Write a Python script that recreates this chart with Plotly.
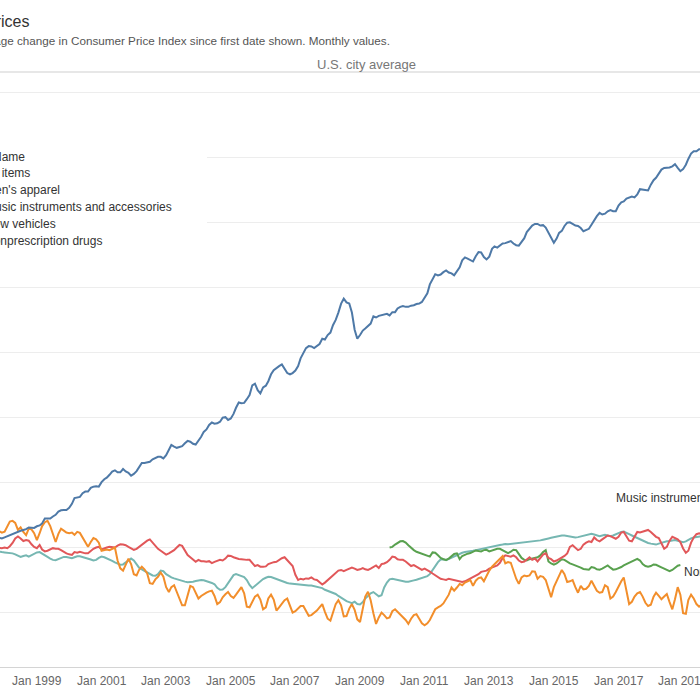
import pandas as pd
import plotly.graph_objects as go

# ---------------- data ----------------
start_month = "1997-01-01"
green_start_month = "2009-12-01"

# CPI-U, All items (index level, monthly, Jan 1997 - Aug 2019)
all_items_cpi = [
    159.1, 159.6, 160.0, 160.2, 160.1, 160.3, 160.5, 160.8, 161.2, 161.6, 161.5, 161.3,
    161.6, 161.9, 162.2, 162.5, 162.8, 163.0, 163.2, 163.4, 163.6, 164.0, 164.0, 163.9,
    164.3, 164.5, 165.0, 166.2, 166.2, 166.2, 166.7, 167.1, 167.9, 168.2, 168.3, 168.3,
    168.8, 169.8, 171.2, 171.3, 171.5, 172.4, 172.8, 172.8, 173.7, 174.0, 174.1, 174.0,
    175.1, 175.8, 176.2, 176.9, 177.7, 178.0, 177.5, 177.5, 178.3, 177.7, 177.4, 176.7,
    177.1, 177.8, 178.8, 179.8, 179.8, 179.9, 180.1, 180.7, 181.0, 181.3, 181.3, 180.9,
    181.7, 183.1, 184.2, 183.8, 183.5, 183.7, 183.9, 184.6, 185.2, 185.0, 184.5, 184.3,
    185.2, 186.2, 187.4, 188.0, 189.1, 189.7, 189.4, 189.5, 189.9, 190.9, 191.0, 190.3,
    190.7, 191.8, 193.3, 194.6, 194.4, 194.5, 195.4, 196.4, 198.8, 199.2, 197.6, 196.8,
    198.3, 198.7, 199.8, 201.5, 202.5, 202.9, 203.5, 203.9, 202.9, 201.8, 201.5, 201.8,
    202.4, 203.5, 205.4, 206.7, 207.9, 208.4, 208.3, 207.9, 208.5, 208.9, 210.2, 210.0,
    211.1, 211.7, 213.5, 214.8, 216.6, 218.8, 220.0, 219.1, 218.8, 216.6, 212.4, 210.2,
    211.1, 212.2, 212.7, 213.2, 213.9, 215.7, 215.4, 215.8, 216.0, 216.2, 216.3, 215.9,
    216.7, 216.7, 217.6, 218.0, 218.2, 218.0, 218.0, 218.3, 218.4, 218.7, 218.8, 219.2,
    220.2, 221.3, 223.5, 224.9, 226.0, 225.7, 225.9, 226.5, 226.9, 226.4, 226.2, 225.7,
    226.7, 227.7, 229.4, 230.1, 229.8, 229.5, 229.1, 230.4, 231.4, 231.3, 230.2, 229.6,
    230.3, 232.2, 232.8, 232.5, 232.9, 233.5, 233.6, 233.9, 234.1, 233.5, 233.1, 233.0,
    233.9, 234.8, 236.3, 237.1, 237.9, 238.3, 238.3, 237.9, 238.0, 237.4, 236.2, 234.8,
    233.7, 234.7, 236.1, 236.6, 237.8, 238.6, 238.7, 238.3, 237.9, 237.8, 237.3, 236.5,
    236.9, 237.1, 238.1, 239.3, 240.2, 241.0, 240.6, 240.8, 241.4, 241.7, 241.4, 241.4,
    242.8, 243.6, 243.8, 244.5, 244.7, 245.0, 244.8, 245.5, 246.8, 246.7, 246.7, 246.5,
    247.9, 249.0, 249.6, 250.5, 251.6, 252.0, 252.0, 252.1, 252.4, 252.9, 252.0, 251.2,
    251.7, 252.8, 254.2, 255.5, 256.1, 256.1, 256.6, 256.6,
]

# Percentage change since first date shown (monthly, Jan 1997 - Aug 2019)
mens_apparel_pct = [
    0.0, 0.6, 1.2, 0.8, 1.5, 2.2, 1.6, 1.1, 2.0, 2.8, 2.5, 2.3,
    2.45, 3.3, 4.0, 4.1, 3.8, 2.7, 3.1, 2.4, 1.9, 2.9, 2.8, 2.2,
    1.15, 2.2, 3.3, 3.9, 4.1, 3.3, 2.2, 0.85, 2.1, 2.9, 2.6, 2.3,
    2.2, 2.3, 1.95, 2.4, 2.25, 1.55, 0.75, 0.1, 0.85, 1.45, 1.25, 0.75,
    -0.5, -0.4, -0.3, -0.4, -0.2, 0.0, -2.0, -3.2, -3.55, -2.55, -1.7, -2.55,
    -4.1, -4.3, -3.45, -2.95, -3.35, -4.0, -5.5, -5.6, -4.9, -4.5, -3.85, -4.5,
    -6.1, -6.85, -6.1, -5.8, -6.75, -8.0, -8.9, -8.9, -7.55, -5.9, -6.1, -7.05,
    -7.85, -7.45, -7.15, -6.95, -6.75, -6.65, -7.45, -8.7, -8.4, -7.65, -7.2, -6.85,
    -7.45, -7.75, -7.25, -6.75, -6.1, -7.05, -9.1, -9.2, -8.4, -7.55, -7.25, -8.0,
    -9.5, -9.2, -7.85, -7.25, -8.0, -9.7, -9.2, -8.7, -8.1, -7.85, -8.8, -10.0,
    -9.8, -9.4, -9.0, -9.0, -9.7, -10.5, -10.4, -10.1, -9.7, -9.2, -8.7, -9.9,
    -10.95, -11.25, -9.9, -8.7, -8.1, -8.9, -10.6, -10.55, -9.4, -8.7, -9.6, -11.05,
    -11.45, -9.6, -7.55, -6.8, -8.1, -10.1, -11.75, -10.75, -10.0, -10.4, -10.9, -10.75,
    -9.8, -9.5, -9.9, -10.35, -10.75, -11.15, -11.75, -10.95, -10.4, -10.25, -10.95, -11.65,
    -11.95, -11.65, -11.15, -10.35, -9.5, -9.2, -9.0, -8.6, -7.95, -7.25, -6.15, -6.65,
    -6.15, -5.6, -5.8, -5.4, -5.2, -5.0, -5.9, -5.1, -4.7, -4.6, -5.2, -4.3,
    -3.55, -2.95, -2.55, -2.1, -1.7, -1.3, -2.45, -2.25, -2.35, -3.55, -4.8, -5.6,
    -4.6, -4.3, -4.4, -4.3, -3.65, -3.7, -4.8, -4.4, -4.5, -5.0, -6.55, -7.65,
    -6.1, -5.2, -4.3, -3.45, -4.1, -5.3, -5.2, -5.0, -6.1, -6.95, -5.9, -6.45,
    -6.35, -5.9, -5.1, -5.8, -6.65, -6.95, -6.85, -5.8, -6.1, -7.85, -7.55, -6.85,
    -5.9, -5.2, -4.6, -6.75, -8.7, -8.35, -7.55, -7.05, -6.85, -7.55, -8.5, -9.0,
    -8.8, -7.55, -6.95, -7.45, -7.95, -7.55, -7.15, -8.4, -9.5, -7.95, -6.1, -7.25,
    -10.1, -10.2, -8.1, -7.25, -7.85, -8.7, -9.1, -8.8,
]

music_instruments_pct = [
    0.0, 0.1, -0.1, 0.2, 0.0, 0.1, -0.2, 0.0, 0.1, 0.0, -0.1, -0.1,
    0.0, -0.1, 0.2, 0.7, 1.4, 1.7, 1.4, 1.0, 1.15, 1.05, 0.5, 0.1,
    -0.1, 0.4, -0.3, -0.6, -0.5, -0.3, -0.1, -0.2, -0.2, -0.4, -0.7, -0.9,
    -1.05, -1.15, -0.7, -0.8, -0.65, -0.8, -0.9, -0.9, -0.5, -0.2, 0.0, 0.1,
    -0.3, -0.1, 0.0, 0.1, 0.0, 0.0, 0.3, 0.5, 0.45, 0.35, 0.1, -0.1,
    -0.35, -0.2, 0.1, 0.35, 0.65, 1.05, 1.25, 0.75, 0.25, -0.2, -0.5, -0.8,
    -1.1, -0.9, -0.7, -0.4, 0.0, 0.4, 0.25, -0.4, -1.15, -1.5, -1.8, -2.2,
    -1.9, -2.1, -2.1, -2.2, -2.1, -2.4, -2.2, -2.1, -1.9, -2.0, -1.7, -1.25,
    -1.3, -1.5, -1.65, -1.75, -1.8, -1.9, -1.9, -1.9, -2.35, -2.85, -2.7, -2.95,
    -2.95, -2.9, -2.55, -2.35, -2.25, -2.2, -1.9, -1.65, -1.5, -1.9, -2.45, -2.85,
    -4.2, -5.0, -4.8, -4.9, -4.75, -4.8, -4.6, -4.9, -5.0, -5.4, -5.7, -5.4,
    -5.0, -4.6, -4.2, -3.9, -3.55, -3.45, -3.65, -3.45, -3.3, -3.1, -3.25, -3.45,
    -3.35, -3.15, -3.35, -3.45, -3.25, -2.95, -2.75, -3.15, -2.55, -2.45, -2.25, -1.9,
    -1.4, -1.5, -1.8, -1.9, -1.9, -2.15, -2.45, -2.85, -2.7, -2.95, -3.25, -3.45,
    -3.25, -3.45, -3.7, -4.0, -4.3, -4.6, -4.8, -4.9, -5.0, -4.8, -4.9, -5.0,
    -5.1, -5.2, -5.3, -5.2, -5.0, -4.8, -4.6, -4.4, -4.1, -3.75, -3.65, -3.55,
    -3.25, -3.05, -2.95, -2.75, -2.35, -1.6, -1.2, -1.3, -1.4, -1.2, -1.5, -2.0,
    -2.25, -2.15, -1.8, -1.5, -1.9, -1.7, -2.15, -1.7, -1.1, -0.9, -1.6, -1.8,
    -2.15, -2.0, -1.8, -1.6, -1.3, -0.9, 0.1, 0.35, 0.0, -0.4, -0.2, 0.45,
    0.75, 0.95, 0.85, 1.55, 1.15, 0.95, 1.25, 1.55, 1.85, 1.75, 1.55, 1.35,
    1.65, 2.3, 2.4, 1.65, 1.05, 0.95, 1.75, 2.4, 2.3, 2.4, 2.5, 2.7,
    2.4, 2.0, 1.65, 1.45, 0.65, -0.2, 0.1, 1.05, 1.65, 1.45, 1.25, 0.85,
    -0.15, -0.8, -0.5, 0.75, 1.55, 2.05, 2.2, 2.0,
]

new_vehicles_pct = [
    0.0, -0.1, -0.2, -0.2, -0.3, -0.4, -0.3, -0.5, -0.5, -0.6, -0.6, -0.7,
    -0.75, -0.8, -0.8, -0.9, -1.05, -1.3, -1.45, -1.3, -1.2, -1.4, -1.2, -1.0,
    -0.75, -0.7, -0.9, -1.15, -1.45, -1.7, -1.9, -1.95, -1.8, -1.55, -1.45, -1.45,
    -1.55, -1.65, -1.5, -1.35, -1.35, -1.45, -1.55, -1.65, -1.85, -2.0, -1.9, -1.6,
    -1.4, -1.5, -1.65, -1.85, -2.05, -2.3, -2.5, -2.65, -2.6, -2.3, -1.9, -1.7,
    -2.0, -2.65, -3.1, -3.35, -3.6, -3.85, -4.1, -4.3, -4.35, -4.1, -3.55, -3.65,
    -4.1, -4.4, -4.6, -4.75, -4.9, -4.95, -5.15, -5.25, -5.35, -5.35, -5.25, -5.15,
    -5.05, -5.0, -5.05, -5.15, -5.3, -5.45, -5.65, -6.2, -6.5, -6.45, -6.1, -5.5,
    -4.75, -4.25, -4.1, -4.25, -4.45, -4.55, -5.0, -5.75, -6.25, -5.9, -5.5, -5.15,
    -4.85, -4.65, -4.5, -4.55, -4.7, -4.95, -5.1, -5.25, -5.35, -5.45, -5.55, -5.6,
    -5.6, -5.65, -5.75, -5.85, -5.9, -5.85, -5.85, -5.95, -6.1, -6.15, -6.25, -6.5,
    -6.65, -6.8, -6.95, -7.15, -7.45, -7.75, -8.05, -8.25, -8.4, -8.55, -8.35, -8.7,
    -8.75, -8.4, -7.85, -7.4, -7.05, -6.85, -7.15, -7.5, -7.35, -6.15, -5.4, -4.9,
    -4.8, -4.9, -5.0, -5.05, -5.15, -5.25, -5.25, -5.2, -5.05, -4.95, -4.8, -4.65,
    -4.55, -4.4, -4.1, -3.45, -2.85, -2.25, -1.85, -1.8, -1.95, -1.75, -1.6, -1.4,
    -1.2, -1.0, -0.8, -0.7, -0.65, -0.65, -0.5, -0.4, -0.3, -0.3, -0.2, -0.1,
    0.05, 0.1, 0.2, 0.3, 0.4, 0.45, 0.55, 0.5, 0.55, 0.6, 0.65, 0.65,
    0.7, 0.75, 0.75, 0.8, 0.9, 0.95, 1.05, 1.1, 1.2, 1.25, 1.4, 1.5,
    1.6, 1.7, 1.8, 1.85, 1.85, 1.75, 1.65, 1.6, 1.55, 1.6, 1.7, 1.85,
    1.95, 2.05, 2.1, 2.0, 1.85, 1.75, 1.85, 1.95, 1.85, 1.75, 1.85, 2.05,
    2.25, 2.4, 2.45, 2.3, 2.05, 1.85, 1.65, 1.45, 1.25, 1.05, 0.85, 0.7,
    0.6, 0.5, 0.45, 0.6, 0.75, 0.85, 0.95, 1.0, 1.1, 1.15, 1.05, 0.9,
    0.8, 0.95, 1.2, 1.4, 1.55, 1.65, 1.7, 1.75,
]

# Nonprescription drugs (Dec 2009 - Dec 2018)
nonprescription_pct = [
    0.0,
    0.1, 0.45, 0.75, 0.95, 1.0, 0.75, 0.35, -0.05, -0.4, -0.65, -0.8, -0.9,
    -1.05, -1.25, -1.4, -0.75, -0.8, -1.2, -1.6, -1.8, -1.9, -1.7, -1.3, -1.0,
    -0.9, -1.8, -1.3, -1.1, -0.95, -0.85, -0.65, -0.45, -0.55, -0.6, -0.4, -0.35,
    -0.6, -0.45, -0.35, -0.2, -0.2, -0.4, -0.65, -0.85, -0.65, -0.35, -0.4, -1.0,
    -1.6, -1.9, -2.0, -1.8, -1.7, -1.65, -1.5, -1.2, -0.7, -0.4, -2.15, -2.45,
    -2.65, -2.45, -2.15, -1.8, -1.9, -2.2, -2.45, -2.6, -2.75, -2.85, -3.1, -3.3,
    -3.4, -3.4, -3.0, -3.1, -3.35, -3.4, -3.25, -2.95, -2.75, -3.1, -3.4, -3.35,
    -3.2, -3.0, -2.75, -2.55, -2.3, -2.2, -2.0, -1.75, -2.0, -2.55, -2.85, -2.95,
    -2.85, -2.6, -2.65, -2.9, -3.05, -3.25, -3.45, -3.65, -3.45, -3.05, -2.8, -2.7,
]

legend_title = "Name"
series_names = ["All items", "Men's apparel", "Music instruments and accessories",
                "New vehicles", "Nonprescription drugs"]
series_colors = ["#4e79a7", "#f28e2b", "#e15759", "#76b7b2", "#59a14f"]

tick_dates = ["1999-01-01", "2001-01-01", "2003-01-01", "2005-01-01", "2007-01-01",
              "2009-01-01", "2011-01-01", "2013-01-01", "2015-01-01", "2017-01-01",
              "2019-01-01"]
tick_texts = ["Jan 1999", "Jan 2001", "Jan 2003", "Jan 2005", "Jan 2007", "Jan 2009",
              "Jan 2011", "Jan 2013", "Jan 2015", "Jan 2017", "Jan 2019"]

x_view = ["1997-11-10", "2019-07-11"]
y_view = [-18.38, 73.15]

# ---------------- figure ----------------
FONT = "Liberation Sans, Arial, sans-serif"
W, H = 700, 700
M_T, M_B = 72, 33
PLOT_H = H - M_T - M_B


def py(p):
    """pixel row -> paper y"""
    return (H - M_B - p) / PLOT_H


dates = pd.date_range(start_month, periods=len(all_items_cpi), freq="MS")
green_dates = pd.date_range(green_start_month, periods=len(nonprescription_pct), freq="MS")
all_items_pct = [(v / all_items_cpi[0] - 1) * 100 for v in all_items_cpi]

fig = go.Figure()
traces = [
    (new_vehicles_pct, dates, 3),
    (nonprescription_pct, green_dates, 4),
    (music_instruments_pct, dates, 2),
    (mens_apparel_pct, dates, 1),
    (all_items_pct, dates, 0),
]
for vals, xs, idx in traces:
    fig.add_trace(go.Scatter(
        x=xs, y=vals, mode="lines", name=series_names[idx],
        line=dict(color=series_colors[idx], width=2),
        showlegend=False, hoverinfo="skip",
    ))

fig.update_layout(
    width=W, height=H,
    margin=dict(l=0, r=0, t=M_T, b=M_B, pad=0, autoexpand=False),
    paper_bgcolor="white", plot_bgcolor="white",
    font=dict(family=FONT, color="#333333"),
    showlegend=False,
    xaxis=dict(
        range=x_view, type="date", automargin=False,
        showticklabels=False, showgrid=False, zeroline=False,
        showline=True, linecolor="#d4d4d4", linewidth=1, ticks="",
    ),
    yaxis=dict(
        range=y_view, tick0=0, dtick=10, automargin=False,
        showticklabels=False, showgrid=True, gridcolor="#ededed", gridwidth=1,
        zeroline=False, showline=False, ticks="",
    ),
)

# zero line (dotted) and header separator
fig.add_shape(type="line", xref="paper", yref="y", x0=0, x1=1, y0=0, y1=0,
              line=dict(color="#c8c8c8", width=1, dash="dot"), layer="below")
fig.add_shape(type="line", xref="paper", yref="paper", x0=0, x1=1, y0=1, y1=1,
              line=dict(color="#cfcfcf", width=1), layer="above")
# legend panel background
fig.add_shape(type="rect", xref="paper", yref="paper",
              x0=-0.05, x1=207 / W, y0=py(282), y1=py(98),
              fillcolor="white", line=dict(width=0), layer="above")

anns = []
# x-axis date labels, placed through the x axis scale
for d, t in zip(tick_dates, tick_texts):
    anns.append(dict(text=t, x=d, xref="x", xanchor="center", y=py(681), yanchor="middle",
                     font=dict(size=12, color="#666666")))
# title and subtitle (the reference view is cropped on the left)
anns.append(dict(text="Prices", x=0, xshift=-17, xanchor="left", y=py(21), yanchor="middle",
                 font=dict(size=16, color="#333333")))
anns.append(dict(text="Percentage change in Consumer Price Index since first date shown. Monthly values.",
                 x=0, xshift=-48, xanchor="left", y=py(41), yanchor="middle",
                 font=dict(size=11.7, color="#555555")))
anns.append(dict(text="U.S. city average", x=366 / W, xanchor="center", y=py(64), yanchor="middle",
                 font=dict(size=13, color="#777777")))
# legend text
anns.append(dict(text=legend_title, x=0, xshift=-9, xanchor="left", y=py(157), yanchor="middle",
                 font=dict(size=12, color="#333333")))
for i, name in enumerate(series_names):
    anns.append(dict(text=name, x=0, xshift=-17, xanchor="left", y=py(173 + 17 * i),
                     yanchor="middle", font=dict(size=12, color="#333333")))
# line labels
anns.append(dict(text=series_names[2], x=614 / W, xanchor="left", y=py(498), yanchor="middle",
                 font=dict(size=12, color="#333333")))
anns.append(dict(text=series_names[4], x=682 / W, xanchor="left", y=py(572), yanchor="middle",
                 font=dict(size=12, color="#333333")))

for a in anns:
    a.setdefault("xref", "paper")
    a.update(yref="paper", showarrow=False)
fig.update_layout(annotations=anns)

fig.write_html(
    "out.html",
    config={"displayModeBar": False},
    post_script="document.documentElement.style.margin='0';document.body.style.margin='0';"
                "document.body.style.overflow='hidden';",
)
